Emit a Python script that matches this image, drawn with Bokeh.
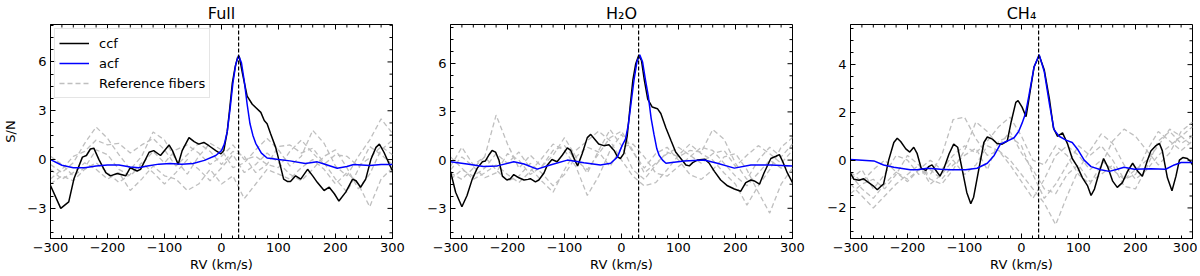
import math
from bokeh.plotting import figure
from bokeh.models import (Range1d, SingleIntervalTicker, LinearAxis, Span, Legend, LegendItem)
from bokeh.layouts import row
from bokeh.embed import file_html
from bokeh.resources import INLINE

FONT = "DejaVu Sans"
rv_planet = 30

x_ticks = [-300, -200, -100, 0, 100, 200, 300]
x_tick_labels = ["\u2212300", "\u2212200", "\u2212100", "0", "100", "200", "300"]
y_ticks_a = [-3, 0, 3, 6]
y_tick_labels_a = ["\u22123", "0", "3", "6"]
y_ticks_b = [-2, 0, 2, 4]
y_tick_labels_b = ["\u22122", "0", "2", "4"]

titles = ["Full", "H\u2082O", "CH\u2084"]
y_limits = [(-4.85, 8.3), (-4.88, 8.44), (-3.28, 5.68)]

# ---------------- Full ----------------
full_ccf_v = [-300, -282, -268, -259, -244, -237, -230, -224, -215, -203, -195, -183, -168, -160, -148, -142,
              -127, -119, -107, -92, -86, -76, -69, -57, -48, -40, -31, -22, -10, -1, 4, 10, 14, 19, 24, 28, 31,
              37, 45, 54, 60, 69, 75, 80, 86, 95, 102, 109, 116, 121, 130, 139, 151, 160, 168, 180, 189, 198,
              206, 218, 230, 236, 244, 253, 262, 271, 277, 285, 294, 300]
full_ccf_y = [-1.6, -3.0, -2.6, -1.2, 0.15, 0.25, 0.65, 0.7, 0.0, -0.8, -1.0, -0.86, -1.0, -0.5, -0.7, -0.6,
              0.45, 0.55, 0.25, 0.9, 0.55, -0.3, 0.55, 1.35, 1.1, 0.95, 1.05, 0.85, 0.55, 0.35, 0.55, 1.7, 3.0, 4.7,
              5.7, 6.25, 6.35, 5.25, 3.9, 3.4, 3.2, 2.9, 2.4, 2.2, 1.6, 0.75, -0.2, -1.2, -1.35, -1.35, -1.0, -1.2,
              -0.6, -1.0, -1.4, -1.9, -1.7, -2.1, -2.55, -2.0, -1.2, -1.3, -1.7, -1.2, 0.0, 0.75, 0.95, 0.45, -0.25,
              -0.7]
full_acf_v = [-300, -280, -260, -240, -220, -200, -180, -160, -145, -130, -110, -90, -70, -50, -30, -10, 0, 5,
              10, 15, 20, 25, 30, 35, 40, 45, 50, 55, 60, 70, 80, 100, 120, 147, 168, 180, 203, 220, 232, 260,
              280, 300]
full_acf_y = [0.0, -0.35, -0.5, -0.5, -0.4, -0.33, -0.33, -0.45, -0.5, -0.4, -0.28, -0.24, -0.28, -0.24, -0.05,
              0.25, 0.55, 0.95, 1.7, 3.1, 4.7, 5.85, 6.4, 5.95, 4.8, 3.4, 2.2, 1.5, 1.0, 0.4, 0.1, 0.0, -0.08,
              -0.24, -0.14, -0.27, -0.53, -0.43, -0.3, -0.37, -0.3, -0.3]

ref_v = [-300, -280, -260, -240, -220, -200, -180, -160, -140, -120, -100, -80, -60, -40, -20, 0,
         20, 40, 60, 80, 100, 120, 140, 160, 180, 200, 220, 240, 260, 280, 300]

full_ref_1 = [-0.3, -0.8, -0.2, 1.0, 2.0, 1.3, 0.3, -0.6, 0.2, 1.7, 1.2, 0.0, -0.9, 0.2, 1.0, 0.6,
              -0.5, -0.2, 0.6, 1.3, 0.6, -0.4, 0.2, 1.8, 1.0, -0.4, -1.0, 0.2, 1.2, 2.5, 1.6]
full_ref_2 = [-1.2, -0.6, 0.2, 0.5, 1.2, 0.9, 1.0, 0.4, 0.9, 1.3, 0.6, -0.4, 0.3, 1.0, 0.5, -0.3,
              0.5, 0.2, -0.8, -0.3, 0.8, 0.9, 0.4, 0.7, -0.2, -1.2, -2.0, -0.6, 0.8, 0.3, -0.3]
full_ref_3 = [-0.6, -1.2, -0.8, -0.2, -0.6, -1.2, -0.8, -1.9, -1.2, -0.4, -1.0, -1.2, -1.9, -1.5, -0.6, -1.5,
              -1.0, -2.4, -1.5, -0.6, -0.9, -1.2, -0.5, 0.0, -0.6, -1.5, -0.8, -1.5, -2.9, -1.2, -0.5]
full_ref_4 = [0.2, -0.3, -1.0, -0.5, 0.6, 0.3, -0.6, -1.0, -0.3, 0.5, -0.2, 0.6, 0.9, 0.4, -0.3, 0.2,
              0.9, 0.0, 0.2, -0.3, -0.5, 0.5, 1.2, 0.4, -0.3, 0.3, 0.2, -0.4, 0.1, 0.8, 0.3]
full_ref_5 = [-1.5, -1.0, -1.3, -0.6, -0.2, -0.8, -1.4, -0.9, -0.2, -0.8, -1.5, -0.8, 0.0, -0.6, -1.3, -0.5,
              0.3, -0.8, -0.3, 0.4, -0.2, -0.9, -1.3, -0.6, 0.2, 0.6, -0.5, -1.8, -0.9, 0.6, 1.2]

# ---------------- H2O ----------------
h2o_ccf_v = [-300, -291, -280, -271, -262, -253, -244, -239, -233, -227, -221, -215, -209, -201, -195, -189,
             -180, -171, -164, -160, -151, -145, -136, -130, -122, -113, -104, -95, -89, -82, -77, -69, -60, -54,
             -47, -40, -31, -22, -13, -7, -2, 4, 10, 15, 20, 25, 30, 35, 40, 46, 54, 63, 69, 78, 87, 95, 104, 113,
             119, 125, 133, 146, 154, 163, 174, 186, 198, 209, 218, 227, 233, 242, 250, 262, 271, 277, 283, 291,
             300]
h2o_ccf_y = [-0.7, -2.0, -2.9, -2.2, -1.2, -0.5, -0.1, -0.06, 0.3, 0.6, 0.5, 0.0, -1.0, -1.24, -1.16, -0.9,
             -1.1, -1.24, -1.2, -1.16, -1.36, -1.24, -0.8, -0.3, 0.04, -0.1, 0.3, 0.76, 0.6, 0.0, -0.36, 0.4, 1.4,
             1.6, 1.3, 1.0, 0.9, 0.96, 0.6, 0.2, 0.1, 0.4, 1.5, 3.3, 5.0, 6.0, 6.5, 6.2, 5.0, 3.8, 3.3, 3.2, 2.9,
             2.0, 1.2, 0.5, 0.1, -0.3, -0.36, -0.16, 0.0, 0.06, -0.2, -0.7, -1.24, -1.6, -1.8, -1.94, -1.4, -1.24,
             -1.3, -1.5, -0.8, 0.1, 0.24, 0.34, -0.1, -0.8, -1.4]
h2o_acf_v = [-300, -271, -242, -218, -189, -171, -148, -125, -95, -66, -37, -19, -7, 1, 7, 12, 17, 22, 27, 32,
             37, 42, 47, 52, 57, 62, 66, 72, 78, 110, 145, 168, 198, 227, 262, 300]
h2o_acf_y = [-0.1, -0.24, -0.4, -0.36, -0.1, -0.24, -0.56, -0.3, 0.0, -0.16, -0.3, -0.2, 0.2, 0.9, 1.3, 2.2,
             3.6, 5.0, 6.1, 6.55, 6.1, 5.0, 4.0, 2.6, 1.6, 0.7, 0.3, 0.0, -0.2, -0.06, 0.0, -0.2, -0.5, -0.3, -0.3,
             -0.36]

h2o_ref_1 = [-0.4, 0.8, -0.3, 0.2, 2.8, 1.0, -0.5, 0.3, -0.4, 0.3, 1.4, 0.2, -0.8, 0.6, 1.9, 0.9,
             -0.6, -1.2, -0.3, 0.5, 0.2, 0.6, 0.5, 1.9, 1.3, -0.2, -1.2, 0.0, 0.8, 0.2, 1.0]
h2o_ref_2 = [-1.2, -0.6, -1.0, -0.5, 0.4, -0.2, 0.5, -0.5, -1.3, -2.0, -0.6, 0.6, 1.2, 1.8, 1.2, 0.0,
             -1.0, -1.6, -1.4, -0.6, 0.3, 1.0, 0.4, 0.0, -0.8, -1.5, -2.8, -1.6, -0.6, 0.8, 1.4]
h2o_ref_3 = [0.2, -0.5, -1.2, -0.8, -0.3, -0.9, -1.4, -0.7, 0.1, 1.0, 0.6, -0.4, -2.2, -1.0, 0.6, 1.6,
             0.5, -0.5, 0.4, 0.8, 0.0, -0.9, -1.2, -0.6, 0.2, 0.4, -0.6, -2.0, -3.3, -1.5, -0.5]
h2o_ref_4 = [-0.8, -1.2, -0.5, 0.2, -0.6, -1.3, -1.0, -0.2, -0.8, -1.6, -0.9, 0.2, 0.8, 0.5, -0.4, 0.8,
             1.0, 0.2, -0.8, -1.0, -0.4, 0.2, 0.8, 0.6, -0.2, -1.0, -1.6, -0.8, 0.0, -0.5, -0.3]
h2o_ref_5 = [-0.6, 0.2, -0.4, -1.1, -0.8, 0.4, 0.0, -0.9, -0.4, 0.6, 0.9, 0.0, -0.6, 0.4, 1.4, 1.8,
             0.6, -0.8, -0.2, 0.4, 0.8, 0.3, -0.2, 0.4, 0.6, -0.4, 0.3, 0.9, 0.4, -0.2, 0.6]

# ---------------- CH4 ----------------
ch4_ccf_v = [-300, -294, -285, -277, -268, -259, -253, -247, -242, -233, -224, -218, -212, -203, -196, -189,
             -183, -176, -168, -163, -157, -151, -143, -136, -127, -119, -112, -104, -96, -89, -84, -75, -66, -60,
             -51, -43, -34, -25, -18, -10, -6, 1, 8, 13, 22, 31, 40, 49, 56, 63, 72, 81, 89, 98, 107, 116, 122,
             128, 136, 144, 151, 160, 168, 177, 186, 195, 204, 212, 221, 227, 236, 242, 247, 256, 264, 271, 277,
             283, 291, 297, 300]
ch4_ccf_y = [-0.54, -0.8, -0.84, -0.78, -0.94, -1.1, -1.24, -1.1, -1.0, 0.0, 0.74, 0.92, 0.78, 0.47, 0.34, 0.54,
             0.27, -0.34, -0.43, -0.27, -0.2, -0.4, -0.67, -0.34, 0.27, 0.67, 0.54, -0.4, -1.35, -1.82, -1.55,
             -0.4, 0.74, 0.97, 0.88, 0.7, 0.67, 0.8, 1.62, 2.42, 2.49, 2.22, 1.82, 2.56, 3.9, 4.38, 3.77, 2.56,
             1.35, 1.0, 1.14, 0.67, 0.07, -0.27, -0.74, -1.08, -1.48, -1.21, -0.54, 0.07, -0.27, -0.88, -1.14,
             -0.94, -0.47, -0.13, -0.47, -0.67, 0.0, 0.38, 0.61, 0.7, 0.4, -0.74, -1.28, -0.67, 0.0, 0.11, 0.07,
             -0.07, -0.2]
ch4_acf_v = [-300, -259, -242, -224, -195, -183, -165, -142, -125, -98, -78, -60, -48, -37, -25, -13, -5, 1, 7,
             13, 22, 31, 40, 49, 57, 66, 78, 89, 98, 110, 122, 139, 154, 168, 180, 198, 227, 253, 268, 280, 300]
ch4_acf_y = [0.03, -0.03, -0.2, -0.3, -0.4, -0.4, -0.34, -0.38, -0.4, -0.4, -0.34, -0.13, 0.2, 0.67, 0.8, 0.94,
             1.2, 1.55, 1.95, 2.7, 3.9, 4.42, 3.7, 2.36, 1.28, 1.0, 0.84, 0.74, 0.47, 0.0, -0.27, -0.4, -0.47,
             -0.38, -0.3, -0.38, -0.36, -0.38, -0.2, -0.1, -0.1]

ch4_ref_1 = [-0.6, -1.2, -1.6, -1.0, -0.5, -0.9, -0.4, -0.6, 0.2, 1.7, 1.8, 0.9, 0.2, 0.4, 0.0, -0.6,
             -1.2, -1.8, -2.7, -1.5, -0.4, 0.4, 1.1, 0.7, -0.2, -0.8, -0.4, 0.2, 0.6, 1.0, 1.4]
ch4_ref_2 = [-1.0, -1.5, -2.0, -1.5, -1.0, -0.6, -0.2, -0.8, -1.0, -0.4, 0.4, 1.6, 1.2, 0.6, 1.2, 0.3,
             -0.4, -1.2, -1.4, -0.6, -0.2, -0.9, -0.6, -0.2, -1.1, -1.2, -0.3, 0.8, 1.2, 0.7, 1.0]
ch4_ref_3 = [-0.5, -0.9, -0.4, 0.0, -0.5, -0.8, -0.4, 0.0, -0.4, 0.2, 0.6, 0.3, 0.8, 1.4, 1.8, 1.0,
             0.0, -0.2, 0.6, 0.2, -0.6, -1.0, -0.2, 0.8, 1.3, 1.0, 0.4, -0.2, 0.3, 1.2, 1.6]
ch4_ref_4 = [-1.4, -1.0, -0.8, -1.2, -0.6, 0.2, -0.2, -1.0, -0.6, 0.0, -0.6, -0.2, 0.6, 0.4, -0.2, -0.9,
             -1.6, -0.8, 0.2, 0.6, 0.2, -0.4, 0.0, -0.4, -0.8, -0.6, 0.4, 1.2, 0.8, 0.4, 0.8]
ch4_ref_5 = [-0.8, -0.4, -1.2, -0.6, 0.2, 0.0, -0.6, -0.4, -0.8, -0.2, 0.2, 0.5, -0.4, 0.8, 1.0, 0.6,
             -0.6, -1.6, -1.0, -0.2, 0.6, 0.2, 0.6, 0.0, -0.8, -0.4, 0.0, 0.6, 1.3, 1.0, 0.6]

CCF_COLOR = "#000000"
ACF_COLOR = "#0000ff"
REF_COLOR = "#bfbfbf"
X_LO, X_HI = -300, 300
X_MAJOR, X_MINOR = 100, 20


def style_axis(ax):
    ax.axis_line_color = "black"
    ax.axis_line_width = 1
    ax.major_tick_in = 5
    ax.major_tick_out = 0
    ax.minor_tick_in = 3
    ax.minor_tick_out = 0
    ax.major_tick_line_color = "black"
    ax.minor_tick_line_color = "black"
    ax.major_tick_line_width = 1
    ax.minor_tick_line_width = 1
    ax.major_label_text_font = FONT
    ax.major_label_text_color = "black"
    ax.major_label_text_font_size = "13px"
    ax.major_label_standoff = 4
    ax.axis_label_text_font = FONT
    ax.axis_label_text_font_size = "13px"
    ax.axis_label_text_font_style = "normal"
    ax.axis_label_text_color = "black"


def frange(lo, hi, step):
    n = int(math.floor((hi - lo) / step + 1e-9))
    start = math.ceil(lo / step - 1e-9) * step
    out = []
    k = 0
    while start + k * step <= hi + 1e-9:
        out.append(round(start + k * step, 6))
        k += 1
    return out


def make_panel(idx, ccf_v, ccf_y, acf_v, acf_y, refs, yticks, ylabels, y_step, border_right, ylabel=None,
               with_legend=False):
    ylo, yhi = y_limits[idx]
    p = figure(frame_width=342, frame_height=214, x_range=Range1d(X_LO, X_HI), y_range=Range1d(ylo, yhi),
               output_backend="svg", toolbar_location=None, x_axis_type=None, y_axis_type=None,
               min_border_left=37, min_border_right=border_right, min_border_top=0, min_border_bottom=0)
    p.grid.visible = False
    p.outline_line_color = "black"
    p.outline_line_width = 1
    p.background_fill_color = "white"
    p.border_fill_color = "white"

    p.title.text = titles[idx]
    p.title.align = "center"
    p.title.text_font = FONT
    p.title.text_font_size = "16px"
    p.title.text_font_style = "normal"
    p.title.text_color = "black"
    p.title.standoff = 3

    xt = SingleIntervalTicker(interval=X_MAJOR, num_minor_ticks=5)
    yt = SingleIntervalTicker(interval=y_step, num_minor_ticks=4)
    xo = dict(zip(x_ticks, x_tick_labels))
    yo = dict(zip(yticks, ylabels))

    xb = LinearAxis(ticker=xt, axis_label="RV (km/s)", major_label_overrides=xo)
    style_axis(xb)
    xb.axis_label_standoff = 2
    p.add_layout(xb, "below")

    yl = LinearAxis(ticker=yt, major_label_overrides=yo)
    if ylabel:
        yl.axis_label = ylabel
    style_axis(yl)
    yl.axis_label_standoff = 6
    p.add_layout(yl, "left")

    # mirrored inward ticks on the top and right edges
    xmaj = frange(X_LO, X_HI, X_MAJOR)
    xmin = [v for v in frange(X_LO, X_HI, X_MINOR) if v not in xmaj]
    ymaj = frange(ylo, yhi, y_step)
    ymin = [v for v in frange(ylo, yhi, y_step / 4) if v not in ymaj]
    p.ray(x=xmaj, y=[yhi] * len(xmaj), length=5, length_units="screen", angle=-math.pi / 2,
          line_color="black", line_width=1)
    p.ray(x=xmin, y=[yhi] * len(xmin), length=3, length_units="screen", angle=-math.pi / 2,
          line_color="black", line_width=1)
    p.ray(x=[X_HI] * len(ymaj), y=ymaj, length=5, length_units="screen", angle=math.pi,
          line_color="black", line_width=1)
    p.ray(x=[X_HI] * len(ymin), y=ymin, length=3, length_units="screen", angle=math.pi,
          line_color="black", line_width=1)

    ref_renderers = []
    for r in refs:
        rr = p.line(ref_v, r, line_color=REF_COLOR, line_width=1.3, line_dash="5 3")
        ref_renderers.append(rr)
    c = p.line(ccf_v, ccf_y, line_color=CCF_COLOR, line_width=1.5)
    a = p.line(acf_v, acf_y, line_color=ACF_COLOR, line_width=1.5)
    p.add_layout(Span(location=rv_planet, dimension="height", line_color="black", line_width=1.2,
                      line_dash="4 2"))

    if with_legend:
        leg = Legend(items=[LegendItem(label="ccf", renderers=[c]),
                            LegendItem(label="acf", renderers=[a]),
                            LegendItem(label="Reference fibers", renderers=[ref_renderers[0]])],
                     location="top_left")
        leg.label_text_font = FONT
        leg.label_text_font_size = "13px"
        leg.label_text_color = "black"
        leg.glyph_width = 30
        leg.glyph_height = 20
        leg.label_height = 20
        leg.label_standoff = 10
        leg.spacing = 0
        leg.padding = 4
        leg.margin = 4
        leg.border_line_color = "#cccccc"
        leg.border_line_width = 1
        leg.background_fill_alpha = 0.8
        p.add_layout(leg)
    return p


p1 = make_panel(0, full_ccf_v, full_ccf_y, full_acf_v, full_acf_y,
                [full_ref_1, full_ref_2, full_ref_3, full_ref_4, full_ref_5],
                y_ticks_a, y_tick_labels_a, 3, 21, ylabel="S/N", with_legend=True)
p2 = make_panel(1, h2o_ccf_v, h2o_ccf_y, h2o_acf_v, h2o_acf_y,
                [h2o_ref_1, h2o_ref_2, h2o_ref_3, h2o_ref_4, h2o_ref_5],
                y_ticks_a, y_tick_labels_a, 3, 21)
p3 = make_panel(2, ch4_ccf_v, ch4_ccf_y, ch4_acf_v, ch4_acf_y,
                [ch4_ref_1, ch4_ref_2, ch4_ref_3, ch4_ref_4, ch4_ref_5],
                y_ticks_b, y_tick_labels_b, 2, 5)

layout = row(p1, p2, p3, spacing=0)
open("out.html", "w").write(file_html(layout, INLINE))
